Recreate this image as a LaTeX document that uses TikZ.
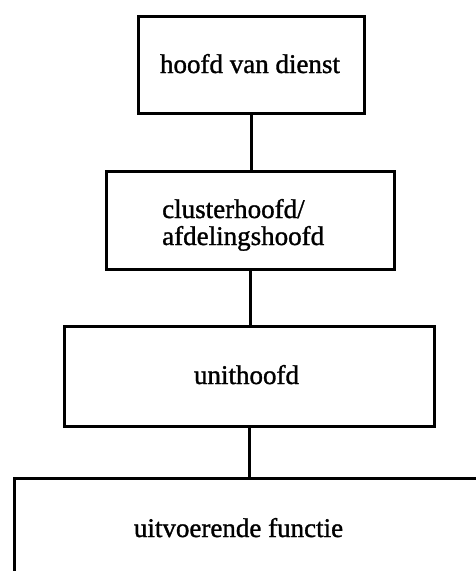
\documentclass[tikz,border=0pt]{standalone}
\usepackage{fontspec}
\setmainfont{Liberation Serif}
\begin{document}
\begin{tikzpicture}[x=1pt,y=-1pt,
  box/.style={draw, line width=2.8pt, rectangle, inner sep=0pt, anchor=north west},
  lbl/.style={font=\fontsize{27}{27}\selectfont\addfontfeature{FakeBold=1.2}, inner sep=0pt},
  link/.style={line width=2.6pt}]
\useasboundingbox (0,0) rectangle (476,571);
\clip (0,0) rectangle (476,571);
% boxes of the hierarchy, top to bottom
\node[box, minimum width=226pt, minimum height=97pt]  (b1) at (137,15)  {};
\node[box, minimum width=288pt, minimum height=98pt]  (b2) at (105,170) {};
\node[box, minimum width=370pt, minimum height=100pt] (b3) at (63,325)  {};
\node[box, minimum width=470pt, minimum height=130pt] (b4) at (13,477)  {};
% labels
\node[lbl, anchor=base] (t1) at (250,73) {hoofd van dienst};
\node[lbl, anchor=base west] (t2a) at (162,218) {clusterhoofd/};
\node[lbl, anchor=base west] (t2b) at (162,245) {afdelingshoofd};
\node[lbl, anchor=base] (t3) at (246.5,384) {unithoofd};
\node[lbl, anchor=base] (t4) at (238.5,537) {uitvoerende functie};
% connecting lines
\draw[link] (b1.south) -- (b1.south |- b2.north);
\draw[link] (b2.south) -- (b2.south |- b3.north);
\draw[link] (b3.south) -- (b3.south |- b4.north);
\end{tikzpicture}
\end{document}
